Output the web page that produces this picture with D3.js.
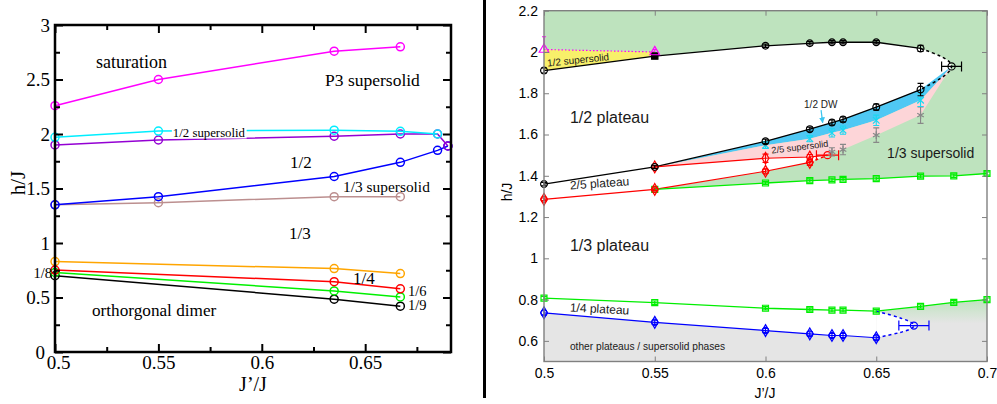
<!DOCTYPE html>
<html><head><meta charset="utf-8">
<script src="https://cdn.jsdelivr.net/npm/d3@7"></script>
<style>
html,body{margin:0;padding:0;background:#fff;}
svg{display:block;}
</style></head>
<body><svg id="chart" width="997" height="404"></svg>
<script>
// ================= Left panel: mean-field phase boundaries =================
const satJ = [0.5, 0.55, 0.635, 0.667];
const satH = [2.26, 2.50, 2.76, 2.80];
const halfSsJ = [0.5, 0.55, 0.635, 0.667, 0.685];
const halfSsH = [1.97, 2.027, 2.035, 2.025, 2.0];
const halfUpJ = [0.5, 0.55, 0.635, 0.667, 0.685, 0.69];
const halfUpH = [1.90, 1.945, 1.98, 2.0, 2.0, 1.89];
const halfLowJ = [0.5, 0.55, 0.635, 0.667, 0.685, 0.69];
const halfLowH = [1.35, 1.425, 1.61, 1.74, 1.85, 1.89];
const thirdSsJ = [0.5, 0.55, 0.635, 0.667];
const thirdSsH = [1.35, 1.37, 1.425, 1.425];
const quarterJ = [0.5, 0.635, 0.667];
const quarterH = [0.83, 0.765, 0.72];
const sixthJ = [0.5, 0.635, 0.667];
const sixthH = [0.752, 0.645, 0.58];
const eighthJ = [0.5, 0.635, 0.667];
const eighthH = [0.73, 0.56, 0.505];
const ninthJ = [0.5, 0.635, 0.667];
const ninthH = [0.70, 0.485, 0.42];

const yTicksL = [0, 0.5, 1, 1.5, 2, 2.5, 3];
const yTickLabelsL = ["0", "0.5", "1", "1.5", "2", "2.5", "3"];
const yMinorL = [0.25, 0.75, 1.25, 1.75, 2.25, 2.75];
const xTicksL = [0.5, 0.55, 0.6, 0.65];
const xTickLabelsL = ["0.5", "0.55", "0.6", "0.65"];
const xMinorL = [0.525, 0.575, 0.625, 0.675];

// ================= Right panel: QMC phase diagram =================
const topJ = [0.5, 0.55, 0.6, 0.62, 0.63, 0.635, 0.65, 0.67];
const topH = [1.91, 1.98, 2.03, 2.042, 2.047, 2.047, 2.047, 2.017];
const topErr = [0.012, 0.008, 0.008, 0.008, 0.008, 0.008, 0.008, 0.015];
const lowJ = [0.5, 0.55, 0.6, 0.62, 0.63, 0.635, 0.65, 0.67];
const lowH = [1.36, 1.443, 1.567, 1.626, 1.658, 1.673, 1.733, 1.818];
const lowErr = [0.008, 0.008, 0.01, 0.01, 0.012, 0.012, 0.015, 0.03];
const domeTipJ = [0.684], domeTipH = [1.93], domeTipErrJ = [0.0045];
const dwJ = [0.6, 0.62, 0.63, 0.635, 0.65, 0.67];
const dwH = [1.548, 1.58, 1.608, 1.621, 1.669, 1.766];
const dwErr = [0.015, 0.015, 0.02, 0.02, 0.025, 0.03];
const fifthUpJ = [0.55, 0.6, 0.62];
const fifthUpH = [1.443, 1.485, 1.491];
const fifthUpErr = [0.006, 0.02, 0.012];
const fifthTipJ = [0.628], fifthTipH = [1.50], fifthTipErrJ = [0.005];
const fifthLowJ = [0.5, 0.55, 0.6, 0.62];
const fifthLowH = [1.286, 1.334, 1.422, 1.465];
const fifthLowErr = [0.006, 0.006, 0.01, 0.015];
const ssLowJ = [0.63, 0.635, 0.65, 0.67];
const ssLowH = [1.516, 1.527, 1.597, 1.694];
const ssLowErr = [0.02, 0.025, 0.035, 0.04];
const thirdUpJ = [0.55, 0.6, 0.62, 0.63, 0.635, 0.65, 0.67, 0.685, 0.7];
const thirdUpH = [1.334, 1.365, 1.377, 1.38, 1.383, 1.386, 1.398, 1.40, 1.411];
const thirdLowJ = [0.5, 0.55, 0.6, 0.62, 0.63, 0.635, 0.65, 0.67, 0.685, 0.7];
const thirdLowH = [0.807, 0.785, 0.758, 0.752, 0.749, 0.749, 0.744, 0.767, 0.787, 0.80];
const quarterLowJ = [0.5, 0.55, 0.6, 0.62, 0.63, 0.635, 0.65];
const quarterLowH = [0.736, 0.69, 0.65, 0.634, 0.626, 0.626, 0.615];
const quarterTipJ = [0.667], quarterTipH = [0.674], quarterTipErrJ = [0.0068];
const ssHalfJ = [0.5, 0.55];
const ssHalfH = [2.012, 2.0];
const ssHalfErrUp = [0.062, 0.012];

const yTicksR = [0.6, 0.8, 1, 1.2, 1.4, 1.6, 1.8, 2, 2.2];
const yTickLabelsR = ["0.6", "0.8", "1", "1.2", "1.4", "1.6", "1.8", "2", "2.2"];
const xTicksR = [0.5, 0.55, 0.6, 0.65, 0.7];
const xTickLabelsR = ["0.5", "0.55", "0.6", "0.65", "0.7"];

// ---------------------------------------------------------------
const svg = d3.select("#chart");
const serif = "'Liberation Serif','Times New Roman',serif";
const sans = "'Liberation Sans',Arial,Helvetica,sans-serif";

const xL = d3.scaleLinear().domain([0.5, 0.6915]).range([55, 451]);
const yL = d3.scaleLinear().domain([0, 3]).range([352, 25]);
const xR = d3.scaleLinear().domain([0.5, 0.7]).range([544, 987]);
const yR = d3.scaleLinear().domain([0.5, 2.2]).range([361.5, 10.7]);

const zip = (js, hs) => js.map((j, i) => [j, hs[i]]);
const lineL = d3.line().x(d => xL(d[0])).y(d => yL(d[1]));
const lineR = d3.line().x(d => xR(d[0])).y(d => yR(d[1]));
const curveR = d3.line().x(d => xR(d[0])).y(d => yR(d[1])).curve(d3.curveNatural);

// ======================= LEFT PANEL =======================
const gL = svg.append("g");
const leftSeries = [
  { j: satJ, h: satH, c: "#ff00ff" },
  { j: thirdSsJ, h: thirdSsH, c: "#bc8f8f" },
  { j: halfLowJ, h: halfLowH, c: "#0000ff" },
  { j: halfUpJ, h: halfUpH, c: "#9400d3" },
  { j: halfSsJ, h: halfSsH, c: "#00eeff" },
  { j: quarterJ, h: quarterH, c: "#ffa500" },
  { j: ninthJ, h: ninthH, c: "#000000" },
  { j: eighthJ, h: eighthH, c: "#00f000" },
  { j: sixthJ, h: sixthH, c: "#ff0000" }
];
leftSeries.forEach(s => {
  const p = zip(s.j, s.h);
  gL.append("path").attr("d", lineL(p)).attr("fill", "none")
    .attr("stroke", s.c).attr("stroke-width", 1.5);
  gL.selectAll(null).data(p).join("circle")
    .attr("cx", d => xL(d[0])).attr("cy", d => yL(d[1])).attr("r", 4)
    .attr("fill", "none").attr("stroke", s.c).attr("stroke-width", 1.5);
});

// axes of the left panel
function styleAxis(g, color, width, font, size) {
  g.select(".domain").remove();
  g.selectAll(".tick line").attr("stroke", color).attr("stroke-width", width);
  g.attr("font-family", font).attr("font-size", size);
  g.selectAll(".tick text").attr("fill", "#000");
}
const axL = svg.append("g");
function tickPair(axisFn, scale, pos, major, minor, labels, padding) {
  const g = axL.append("g").attr("transform", pos)
    .call(axisFn(scale).tickValues(major)
      .tickFormat(labels ? (d, i) => labels[i] : "")
      .tickSizeInner(-8).tickSizeOuter(0).tickPadding(padding || 3))
    .call(g => styleAxis(g, "#000", 2, serif, 19));
  axL.append("g").attr("transform", pos)
    .call(axisFn(scale).tickValues(minor).tickFormat("").tickSizeInner(-5).tickSizeOuter(0))
    .call(g => styleAxis(g, "#000", 2, serif, 19));
  return g;
}
const yAxisL = tickPair(d3.axisLeft, yL, "translate(55,0)", yTicksL, yMinorL, yTickLabelsL, 5);
tickPair(d3.axisRight, yL, "translate(451,0)", yTicksL, yMinorL, null);
const xAxisL = tickPair(d3.axisBottom, xL, "translate(0,352)", xTicksL, xMinorL, xTickLabelsL, 4);
tickPair(d3.axisTop, xL, "translate(0,25)", xTicksL, xMinorL, null);
// the corner labels "0" and "0.5" are nudged apart
yAxisL.selectAll(".tick text").filter(d => d === 0).attr("x", -10);
xAxisL.selectAll(".tick text").filter(d => d === 0.5).attr("x", 3);

axL.append("rect").attr("x", xL(0.5)).attr("y", yL(3))
  .attr("width", xL(0.6915) - xL(0.5)).attr("height", yL(0) - yL(3))
  .attr("fill", "none").attr("stroke", "#000").attr("stroke-width", 2.5);

axL.append("text").attr("transform", "translate(18,183) rotate(-90)")
  .attr("text-anchor", "middle").attr("dy", "0.35em")
  .attr("font-family", serif).attr("font-size", 21).text("h/J");
axL.append("text").attr("x", 253).attr("y", 384)
  .attr("text-anchor", "middle").attr("dy", "0.35em")
  .attr("font-family", serif).attr("font-size", 20).text("J’/J");

// phase names of the left panel
const leftNotes = [
  { t: "saturation", j: 0.5198, h: 2.66, s: 18 },
  { t: "P3 supersolid", j: 0.6306, h: 2.495, s: 17.5 },
  { t: "1/2 supersolid", j: 0.557, h: 2.009, s: 12.8, bg: true },
  { t: "1/2", j: 0.6136, h: 1.743, s: 17 },
  { t: "1/3 supersolid", j: 0.6393, h: 1.514, s: 15.4 },
  { t: "1/3", j: 0.6132, h: 1.092, s: 17 },
  { t: "1/4", j: 0.6441, h: 0.679, s: 17 },
  { t: "1/6", j: 0.6707, h: 0.56, s: 14.5 },
  { t: "1/9", j: 0.6707, h: 0.431, s: 14.5 },
  { t: "1/8", j: 0.4986, h: 0.722, s: 14.5, end: true },
  { t: "orthorgonal dimer", j: 0.5179, h: 0.385, s: 17.2 }
];
leftNotes.forEach(n => {
  const t = axL.append("text").attr("x", xL(n.j)).attr("y", yL(n.h)).attr("dy", "0.35em")
    .attr("text-anchor", n.end ? "end" : "start")
    .attr("font-family", serif).attr("font-size", n.s).text(n.t);
  if (n.bg) {
    const b = t.node().getBBox();
    axL.insert("rect", () => t.node()).attr("x", b.x - 1).attr("y", b.y + 2)
      .attr("width", b.width + 2).attr("height", b.height - 4).attr("fill", "#fff");
  }
});

// ======================= DIVIDER =======================
svg.append("line").attr("x1", 484.5).attr("x2", 484.5).attr("y1", 0).attr("y2", 398)
  .attr("stroke", "#000").attr("stroke-width", 3);

// ======================= RIGHT PANEL =======================
const gR = svg.append("g");
const cGreen = "#bee3be", cYellow = "#f8f06a", cBlue = "#4fc8f4", cPink = "#fdd5d8", cGray = "#e5e5e5";

const defs = svg.append("defs");
const grad = defs.append("linearGradient").attr("id", "fadeGreen")
  .attr("gradientUnits", "userSpaceOnUse")
  .attr("x1", 0).attr("x2", 0).attr("y1", yR(0.80)).attr("y2", yR(0.685));
grad.append("stop").attr("offset", 0).attr("stop-color", cGreen).attr("stop-opacity", 1);
grad.append("stop").attr("offset", 1).attr("stop-color", cGreen).attr("stop-opacity", 0);

const domeTop = zip(topJ, topH), domeLow = zip(lowJ, lowH);
const domeTip = [domeTipJ[0], domeTipH[0]];
const dw = zip(dwJ, dwH);
const fUp = zip(fifthUpJ, fifthUpH), fLow = zip(fifthLowJ, fifthLowH);
const fTip = [fifthTipJ[0], fifthTipH[0]];
const ssLow = zip(ssLowJ, ssLowH);
const tUp = zip(thirdUpJ, thirdUpH), tLow = zip(thirdLowJ, thirdLowH);
const qLow = zip(quarterLowJ, quarterLowH);
const qTip = [quarterTipJ[0], quarterTipH[0]];
const ssHalf = zip(ssHalfJ, ssHalfH);
const poly = pts => lineR(pts) + "Z";

// 1/3 supersolid and everything above it
gR.append("path").attr("fill", cGreen)
  .attr("d", poly([[0.5, 2.2], [0.7, 2.2], ...tUp.slice().reverse(), fLow[0]]));

// lower phases: gray below the 1/4 plateau
const tLowRight = tLow.filter(d => d[0] >= 0.65);
gR.append("path").attr("fill", cGray).attr("d", poly([
  ...qLow, ...tLowRight, [0.7, 0.5], [0.5, 0.5]
]));
gR.append("path").attr("fill", "url(#fadeGreen)").attr("d", poly([
  ...tLowRight, [0.7, 0.66], [0.65, 0.66]
]));
gR.append("path").attr("fill", "#fff")
  .attr("d", curveR([tLow[6], qTip, qLow[6]]) + "Z");

// 1/2 plateau dome
gR.append("path").attr("fill", "#fff").attr("d", poly([...domeTop, domeTip, ...domeLow.slice().reverse()]));
gR.append("path").attr("fill", "#fff").attr("d", curveR([domeTop[7], domeTip, domeLow[7]]) + "Z");
// 1/2 supersolid sliver
gR.append("path").attr("fill", cYellow).attr("d", poly([...ssHalf, domeTop[1], domeTop[0]]));
// 2/5 plateau
gR.append("path").attr("fill", "#fff").attr("d", poly([
  ...fLow, fTip, ...fUp.slice().reverse(), domeLow[0]
]));
// 1/2 domain-wall band and 2/5 supersolid band
gR.append("path").attr("fill", cBlue).attr("d", poly([
  ...domeLow.slice(1), domeTip, ...dw.slice().reverse()
]));
gR.append("path").attr("fill", cPink).attr("d", poly([
  domeLow[1], ...dw, domeTip, ...ssLow.slice().reverse(), fTip, ...fUp.slice(1).reverse()
]));

// ---- boundary lines ----
const stroke = (d, c, w, dash) => gR.append("path").attr("d", d).attr("fill", "none")
  .attr("stroke", c).attr("stroke-width", w).attr("stroke-dasharray", dash || null);
stroke(lineR(domeTop), "#000", 1.3);
stroke(lineR(domeLow), "#000", 1.3);
stroke(curveR([domeTop[7], domeTip, domeLow[7]]), "#000", 1.5, "3,3");
stroke(lineR(ssHalf), "#ff00ff", 1.2, "1.5,2");
stroke(lineR([...fUp, fTip]), "#ff0000", 1.2);
stroke(lineR(fLow), "#ff0000", 1.2);
stroke(lineR([fLow[3], fTip]), "#ff0000", 1.5, "3,3");
stroke(lineR(tUp), "#00ee00", 1.3);
stroke(lineR(tLow), "#00ee00", 1.3);
stroke(lineR(qLow), "#0000ff", 1.2);
stroke(curveR([tLow[6], qTip, qLow[6]]), "#0000ff", 1.5, "3,3");

// ---- markers with error bars ----
const gM = svg.append("g");
function errV(p, e, c) {
  const x = xR(p[0]), y1 = yR(p[1] - e), y2 = yR(p[1] + e);
  gM.append("path").attr("d", `M${x},${y1}V${y2}M${x - 3},${y1}H${x + 3}M${x - 3},${y2}H${x + 3}`)
    .attr("stroke", c).attr("stroke-width", 1.1).attr("fill", "none");
}
function errVasym(p, up, c) {
  const x = xR(p[0]), y1 = yR(p[1]), y2 = yR(p[1] + up);
  gM.append("path").attr("d", `M${x},${y1}V${y2}M${x - 2},${y2}H${x + 2}`)
    .attr("stroke", c).attr("stroke-width", 1.1).attr("fill", "none");
}
function errH(p, e, c) {
  const y = yR(p[1]), x1 = xR(p[0] - e), x2 = xR(p[0] + e);
  gM.append("path").attr("d", `M${x1},${y}H${x2}M${x1},${y - 5}V${y + 5}M${x2},${y - 5}V${y + 5}`)
    .attr("stroke", c).attr("stroke-width", 1.2).attr("fill", "none");
}
function mark(p, type, size, c, fill, w) {
  gM.append("path").attr("transform", `translate(${xR(p[0])},${yR(p[1])})`)
    .attr("d", d3.symbol().type(type).size(size)())
    .attr("fill", fill || "none").attr("stroke", c).attr("stroke-width", w || 1.2);
}
const sym = {
  circle: d3.symbolCircle, square: d3.symbolSquare, diamond: d3.symbolDiamond,
  triangle: d3.symbolTriangle, star: d3.symbolAsterisk || d3.symbolCross,
  times: d3.symbolTimes || d3.symbolCross
};

// 1/3 plateau boundaries (green squares)
tUp.forEach(p => { errV(p, 0.008, "#00ee00"); mark(p, sym.square, 36, "#00ee00"); });
tLow.forEach(p => { errV(p, 0.008, "#00ee00"); mark(p, sym.square, 36, "#00ee00"); });
// 1/4 plateau lower boundary (blue diamonds)
qLow.forEach(p => { errV(p, 0.01, "#0000ff"); mark(p, sym.diamond, 40, "#0000ff"); mark(p, sym.circle, 30, "#0000ff"); });
errH(qTip, quarterTipErrJ[0], "#0000ff"); mark(qTip, sym.circle, 40, "#0000ff");
// 2/5 plateau (red)
fUp.forEach((p, i) => { errV(p, fifthUpErr[i], "#ff0000"); mark(p, sym.diamond, 40, "#ff0000"); });
fLow.forEach((p, i) => { errV(p, fifthLowErr[i], "#ff0000"); mark(p, sym.diamond, 40, "#ff0000"); mark(p, sym.circle, 28, "#ff0000"); });
errH(fTip, fifthTipErrJ[0], "#ff0000"); mark(fTip, sym.circle, 40, "#ff0000");
// 2/5 supersolid lower edge (gray stars)
ssLow.forEach((p, i) => { errV(p, ssLowErr[i], "#888"); mark(p, sym.star, 40, "#888", "#888"); });
// 1/2 domain-wall edge (cyan)
dw.forEach((p, i) => { errV(p, dwErr[i], "#18d8f2"); mark(p, sym.times, 30, "#18d8f2"); });
// 1/2 plateau boundaries (black)
domeTop.forEach((p, i) => {
  errV(p, topErr[i], "#000");
  if (i === 1) mark(p, sym.square, 40, "#000", "#000");
  else mark(p, sym.circle, 36, "#000");
});
domeLow.forEach((p, i) => { errV(p, lowErr[i], "#000"); mark(p, sym.circle, 36, "#000"); });
errH(domeTip, domeTipErrJ[0], "#000"); mark(domeTip, sym.circle, 40, "#000");
// 1/2 supersolid upper edge (magenta triangles)
ssHalf.forEach((p, i) => { errVasym(p, ssHalfErrUp[i], "#ff00ff"); mark(p, sym.triangle, 40, "#ff00ff"); });

// ---- axes of the right panel ----
const axR = svg.append("g");
const axColor = "#808080";
axR.append("g").attr("transform", `translate(${xR(0.5)},0)`)
  .call(d3.axisLeft(yR).tickValues(yTicksR).tickFormat((d, i) => yTickLabelsR[i]).tickSizeInner(-5).tickSizeOuter(0).tickPadding(6))
  .call(g => styleAxis(g, axColor, 1, sans, 14));
axR.append("g").attr("transform", `translate(${xR(0.7)},0)`)
  .call(d3.axisRight(yR).tickValues(yTicksR).tickFormat("").tickSizeInner(-5).tickSizeOuter(0))
  .call(g => styleAxis(g, axColor, 1, sans, 14));
axR.append("g").attr("transform", `translate(0,${yR(0.5)})`)
  .call(d3.axisBottom(xR).tickValues(xTicksR).tickFormat((d, i) => xTickLabelsR[i]).tickSizeInner(-5).tickSizeOuter(0).tickPadding(6.5))
  .call(g => styleAxis(g, axColor, 1, sans, 14));
axR.append("g").attr("transform", `translate(0,${yR(2.2)})`)
  .call(d3.axisTop(xR).tickValues(xTicksR).tickFormat("").tickSizeInner(-5).tickSizeOuter(0))
  .call(g => styleAxis(g, axColor, 1, sans, 14));
axR.append("rect").attr("x", xR(0.5)).attr("y", yR(2.2))
  .attr("width", xR(0.7) - xR(0.5)).attr("height", yR(0.5) - yR(2.2))
  .attr("fill", "none").attr("stroke", axColor).attr("stroke-width", 1.4);

axR.append("text").attr("transform", "translate(507,192) rotate(-90)")
  .attr("text-anchor", "middle").attr("dy", "0.35em")
  .attr("font-family", sans).attr("font-size", 14).text("h/J");
axR.append("text").attr("x", 765).attr("y", 393)
  .attr("text-anchor", "middle").attr("dy", "0.35em")
  .attr("font-family", sans).attr("font-size", 14).text("J’/J");

// phase names of the right panel
const rightNotes = [
  { t: "1/2 supersolid", j: 0.5014, h: 1.946, s: 10, r: -6 },
  { t: "1/2 plateau", j: 0.5117, h: 1.684, s: 16, r: 0 },
  { t: "1/2 DW", j: 0.6174, h: 1.747, s: 10, r: 0 },
  { t: "2/5 supersolid", j: 0.6027, h: 1.523, s: 9.2, r: -7 },
  { t: "1/3 supersolid", j: 0.6549, h: 1.509, s: 14, r: 0 },
  { t: "2/5 plateau", j: 0.5117, h: 1.354, s: 12, r: -4 },
  { t: "1/3 plateau", j: 0.5117, h: 1.063, s: 16, r: 0 },
  { t: "1/4 plateau", j: 0.5117, h: 0.763, s: 12, r: 3 },
  { t: "other plateaus / supersolid phases", j: 0.5117, h: 0.572, s: 10.2, r: 0 }
];
rightNotes.forEach(n => {
  axR.append("text")
    .attr("transform", `translate(${xR(n.j)},${yR(n.h)}) rotate(${n.r})`)
    .attr("dy", "0.35em").attr("font-family", sans).attr("font-size", n.s)
    .attr("fill", "#1a1a1a").text(n.t);
});

// arrow from the "1/2 DW" label to its band
defs.append("marker").attr("id", "arrowHead").attr("viewBox", "0 0 10 10")
  .attr("refX", 9).attr("refY", 5).attr("markerWidth", 6).attr("markerHeight", 6)
  .attr("markerUnits", "userSpaceOnUse").attr("orient", "auto")
  .append("path").attr("d", "M0,0L10,5L0,10Z").attr("fill", "#3cc6f0");
axR.append("line")
  .attr("x1", xR(0.6251)).attr("y1", yR(1.718))
  .attr("x2", xR(0.6258)).attr("y2", yR(1.657))
  .attr("stroke", "#3cc6f0").attr("stroke-width", 1.2).attr("marker-end", "url(#arrowHead)");
</script>
</body></html>
